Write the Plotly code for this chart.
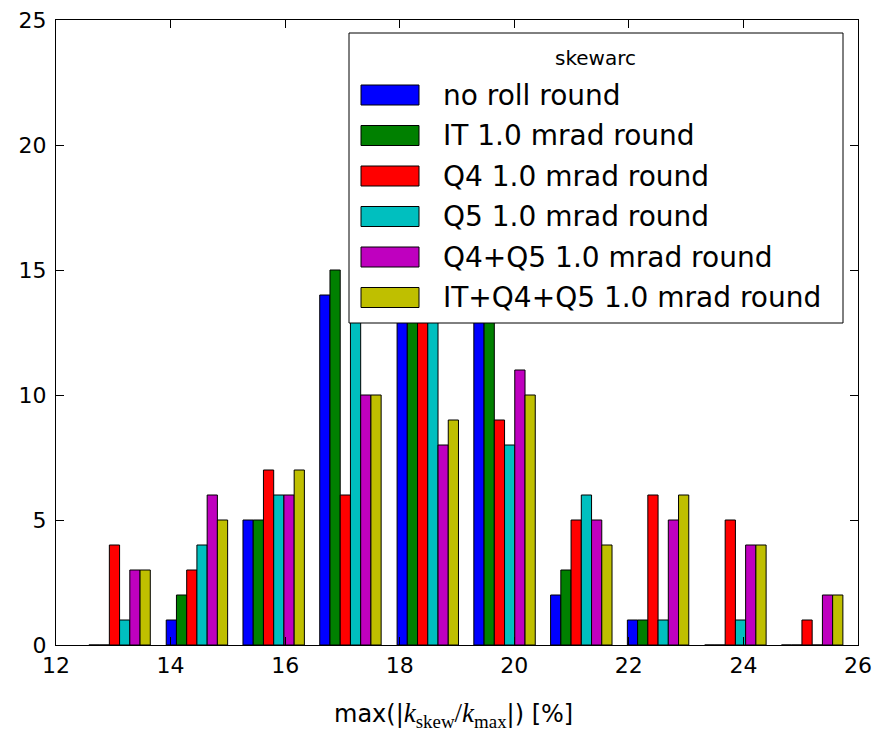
import plotly.graph_objects as go

# Histogram bin centres of max(|k_skew/k_max|) in percent
bin_centers = [13.11, 14.46, 15.80, 17.14, 18.49, 19.83, 21.17, 22.51, 23.86, 25.20]

# Counts per bin for each roll configuration
no_roll = [0, 1, 5, 14, 20, 17, 2, 1, 0, 0]
it_roll = [0, 2, 5, 15, 18, 16, 3, 1, 0, 0]
q4_roll = [4, 3, 7, 6, 14, 9, 5, 6, 5, 1]
q5_roll = [1, 4, 6, 16, 17, 8, 6, 1, 1, 0]
q4q5_roll = [3, 6, 6, 10, 8, 11, 5, 5, 4, 2]
itq4q5_roll = [3, 5, 7, 10, 9, 10, 4, 6, 4, 2]

series_names = [
    "no roll round",
    "IT 1.0 mrad round",
    "Q4 1.0 mrad round",
    "Q5 1.0 mrad round",
    "Q4+Q5 1.0 mrad round",
    "IT+Q4+Q5 1.0 mrad round",
]
series_values = [no_roll, it_roll, q4_roll, q5_roll, q4q5_roll, itq4q5_roll]
series_colors = ["#0000ff", "#008000", "#ff0000", "#00bfbf", "#bf00bf", "#bfbf00"]

W, H = 872, 731
M_L, M_R, M_T, M_B = 56, 14, 20, 86
PW, PH = W - M_L - M_R, H - M_T - M_B

def px_x(x):
    return (x - M_L) / PW

def px_y(y):
    return (H - M_B - y) / PH

fig = go.Figure()
for name, vals, col in zip(series_names, series_values, series_colors):
    fig.add_trace(go.Bar(
        x=bin_centers, y=vals, name=name,
        marker=dict(color=col, line=dict(color="black", width=1)),
        showlegend=False,
    ))

font_main = "DejaVu Sans"

fig.update_layout(
    width=W, height=H,
    margin=dict(l=M_L, r=M_R, t=M_T, b=M_B, autoexpand=False),
    paper_bgcolor="white", plot_bgcolor="white",
    barmode="group", bargap=0.2, bargroupgap=0,
    font=dict(family=font_main, color="black", size=22),
)

axis_common = dict(
    automargin=False,
    showgrid=False, zeroline=False, showline=True, linecolor="black", linewidth=1,
    mirror="allticks", ticks="inside", ticklen=8, tickwidth=1, tickcolor="black",
    tickfont=dict(family=font_main, size=22, color="black"),
)
fig.update_xaxes(
    range=[12, 26], tickmode="array", tickvals=[12, 14, 16, 18, 20, 22, 24, 26],
    ticklabelstandoff=1,
    **axis_common,
)
fig.update_yaxes(
    range=[0, 25], tickmode="array", tickvals=[0, 5, 10, 15, 20, 25],
    ticklabelstandoff=4,
    **axis_common,
)

# x-axis label with italic k symbols and roman subscripts
fig.add_annotation(
    xref="paper", yref="paper", x=px_x(453), y=px_y(715),
    xanchor="center", yanchor="middle", showarrow=False,
    text='max(|<span style="font-family:Liberation Serif;font-size:27px"><i>k</i>'
         '<sub>skew</sub>/<i>k</i><sub>max</sub></span>|) [%]',
    font=dict(family=font_main, size=24, color="black"),
)

# Legend box drawn over the bars
box_l, box_r, box_t, box_b = 349, 843, 33, 323
fig.add_shape(type="rect", xref="paper", yref="paper",
              x0=px_x(box_l), x1=px_x(box_r), y0=px_y(box_b), y1=px_y(box_t),
              line=dict(color="black", width=1), fillcolor="white", layer="above")
fig.add_annotation(xref="paper", yref="paper", x=px_x(595), y=px_y(58),
                   text="skewarc", showarrow=False, xanchor="center", yanchor="middle",
                   font=dict(family=font_main, size=20, color="black"))

row_y = [95, 135.5, 176, 216.5, 257, 297.5]
for name, col, yc in zip(series_names, series_colors, row_y):
    fig.add_shape(type="rect", xref="paper", yref="paper",
                  x0=px_x(361), x1=px_x(419), y0=px_y(yc + 10), y1=px_y(yc - 10),
                  line=dict(color="black", width=1), fillcolor=col, layer="above")
    fig.add_annotation(xref="paper", yref="paper", x=px_x(441), y=px_y(yc),
                       text=name, showarrow=False, xanchor="left", yanchor="middle",
                       font=dict(family=font_main, size=28, color="black"))

fig.write_html("out.html")
